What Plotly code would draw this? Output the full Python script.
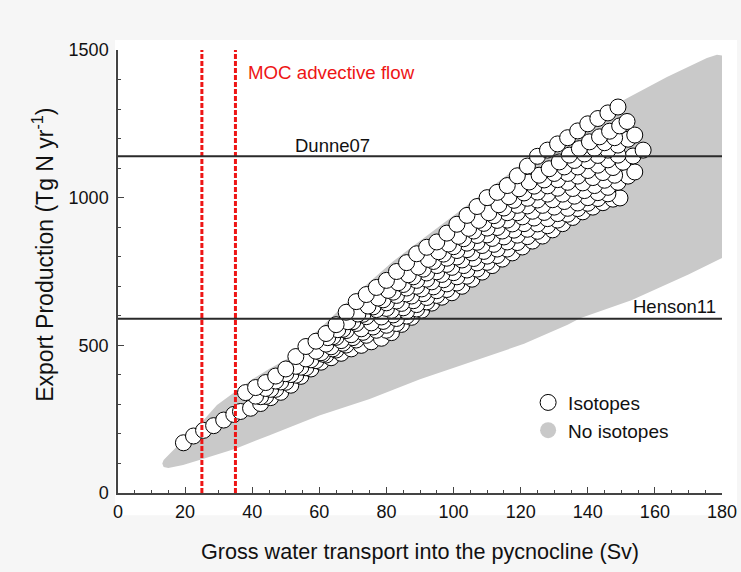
import plotly.graph_objects as go

# ---------------- data ----------------
x_tick_vals = [0, 20, 40, 60, 80, 100, 120, 140, 160, 180]
y_tick_vals = [0, 500, 1000, 1500]
moc_x = [25, 35]
ref_names = ["Dunne07", "Henson11"]
ref_y = [1140, 590]

# "No isotopes" cloud outline (Sv, Tg N/yr)
gray_x = [13.2, 13.6, 16, 20, 25, 29.5, 35, 40, 45, 51.3, 60, 71.2, 82, 95, 108, 122, 137,
          151.7, 163.6, 175.5, 178.5, 180.8, 181.8, 182, 181.8, 180, 170, 153, 137.7, 134,
          121, 110, 100, 90, 75, 60, 45, 35, 25, 19.4, 15, 13.6]
gray_y = [100, 112, 140, 185, 240, 298, 345, 385, 420, 460, 555, 677, 785, 897, 1010, 1128, 1240,
          1337, 1409, 1473, 1484, 1480, 1465, 1000, 805, 796, 740, 653, 592, 570,
          505, 462, 425, 385, 318, 262, 195, 150, 114, 95, 85, 88]

# "Isotopes" circles, read streak by streak
a_x = [19.5, 22.5, 25.5, 28.5, 31.5, 34.5, 36.5]
a_y = [170, 193, 212, 228, 247, 266, 276]

s6_x = [39.5, 42.5, 45.5, 48.5, 51.5, 54.5, 57.5, 60.5, 63.5, 66.5, 69.5, 72.5, 75.5, 78.5,
        81.5, 84.5, 87.5, 90.5, 93.5, 96.5, 99.5, 102.5, 105.5, 108.5, 111.5, 114.5, 117.5,
        120.5, 123.5, 126.5, 129.5, 132.5, 135.5, 138.5, 141.5, 144.5, 147.5, 149.6]
s6_y = [287, 303, 323, 341, 365, 395, 420, 443, 458, 473, 488, 500, 512, 524,
        543, 571, 595, 619, 643, 663, 678, 700, 724, 748, 770, 792, 813,
        833, 853, 870, 891, 912, 933, 952, 968, 983, 995, 999]

s56_x = [80, 83, 86, 89, 92, 95, 98, 101, 104, 107, 110, 113, 116, 119, 122, 125, 128, 131,
         134, 137, 140, 143, 146]
s56_y = [551, 574, 599, 623, 647, 669, 689, 711, 734, 758, 781, 804, 826, 848, 868, 886, 905,
         924, 944, 963, 981, 997, 1013]

s5_x = [44, 47, 50, 53, 56, 59, 62, 65, 68, 71, 74, 77, 80, 83, 86, 89, 92, 95, 98, 101, 104,
        107, 110, 113, 116, 119, 122, 125, 128, 131, 134, 137, 140, 143, 146, 149, 152, 154]
s5_y = [327, 351, 375, 399, 424, 448, 467, 484, 501, 518, 534, 551, 568, 591, 615, 638, 662,
        685, 708, 732, 755, 779, 802, 826, 850, 873, 893, 911, 929, 946, 964, 982, 1000, 1017,
        1035, 1052, 1073, 1087]

s45_x = [61, 64, 67, 70, 73, 76, 79, 82, 85, 88, 91, 94, 97, 100, 103, 106, 109, 112, 115, 118,
         121, 124, 127, 130, 133, 136, 139, 142, 145, 148]
s45_y = [470, 488, 507, 526, 544, 562, 581, 603, 627, 651, 675, 698, 722, 746, 770, 794, 818,
         842, 867, 890, 912, 931, 950, 968, 987, 1005, 1024, 1041, 1059, 1076]

s4_x = [42.5, 45.5, 48.5, 51.5, 54.5, 57.5, 60.5, 63.5, 66.5, 69.5, 72.5, 75.5, 78.5, 81.5,
        84.5, 87.5, 90.5, 93.5, 96.5, 99.5, 102.5, 105.5, 108.5, 111.5, 114.5, 117.5, 120.5,
        123.5, 126.5, 129.5, 132.5, 135.5, 138.5, 141.5, 144.5, 147.5, 150.5, 153.5, 156.5]
s4_y = [326, 351, 376, 401, 426, 451, 475, 495, 516, 536, 556, 576, 596, 618,
        642, 667, 691, 715, 740, 764, 789, 813, 838, 862, 887, 911, 935,
        954, 974, 993, 1012, 1031, 1050, 1068, 1085, 1102, 1120, 1141, 1161]

s34_x = [80, 83, 86, 89, 92, 95, 98, 101, 104, 107, 110, 113, 116, 119, 122, 125, 128, 131,
         134, 137, 140, 143, 146, 149]
s34_y = [625, 650, 674, 700, 724, 749, 774, 799, 824, 849, 874, 899, 924, 949, 972, 992, 1012,
         1032, 1052, 1073, 1092, 1110, 1128, 1144]

s3_x = [41, 44, 47, 50, 53, 56, 59, 62, 65, 68, 71, 74, 77, 80, 83, 86, 89, 92, 95, 98, 101,
        104, 107, 110, 113, 116, 119, 122, 125, 128, 131, 134, 137, 140, 143, 146, 149, 152, 154]
s3_y = [328, 354, 379, 404, 429, 454, 480, 504, 527, 550, 574, 597, 621, 644, 669, 694, 720,
        745, 770, 795, 821, 846, 872, 897, 923, 949, 974, 998, 1019, 1040, 1061, 1082, 1104,
        1125, 1143, 1161, 1178, 1198, 1212]

s23_x = [64, 67, 70, 73, 76, 79, 82, 85, 88, 91, 94, 97, 100, 103, 106, 109, 112, 115, 118,
         121, 124, 127, 130, 133, 136, 139, 142, 145, 148]
s23_y = [529, 554, 580, 605, 630, 654, 680, 706, 732, 758, 784, 809, 834, 861, 887, 913, 939,
         965, 991, 1016, 1039, 1060, 1082, 1104, 1126, 1148, 1167, 1186, 1203]

s2_x = [62.5, 65.5, 68.5, 71.5, 74.5, 77.5, 80.5, 83.5, 86.5, 89.5, 92.5, 95.5, 98.5, 101.5,
        104.5, 107.5, 110.5, 113.5, 116.5, 119.5, 122.5, 125.5, 128.5, 131.5, 134.5, 137.5,
        140.5, 143.5, 146.5, 149.5, 151.7]
s2_y = [526, 553, 580, 606, 633, 660, 686, 712, 739, 765, 791, 817, 843, 869,
        896, 923, 949, 976, 1003, 1030, 1053, 1076, 1098, 1121, 1144, 1166,
        1189, 1206, 1225, 1243, 1258]

s1_x = [38, 41, 44, 47, 50, 53, 56, 59, 62, 65, 68, 71, 74, 77, 80, 83, 86, 89, 92, 95, 98, 101,
        104, 107, 110, 113, 116, 119, 122, 125, 128, 131, 134, 137, 140, 143, 146, 149]
s1_y = [340, 357, 374, 396, 420, 462, 496, 514, 540, 570, 612, 648, 672, 696, 720, 750, 780,
        810, 832, 850, 880, 910, 940, 970, 1000, 1018, 1041, 1074, 1107, 1140, 1161, 1182, 1203,
        1226, 1250, 1268, 1287, 1307]

iso_x = a_x + s6_x + s56_x + s5_x + s45_x + s4_x + s34_x + s3_x + s23_x + s2_x + s1_x
iso_y = a_y + s6_y + s56_y + s5_y + s45_y + s4_y + s34_y + s3_y + s23_y + s2_y + s1_y

# ---------------- figure ----------------
FONT = "Arial, Liberation Sans, Helvetica, sans-serif"
GRAY = "#c9c9c9"
RED = "#ee1515"

fig = go.Figure()

fig.add_trace(go.Scatter(x=gray_x, y=gray_y, fill="toself", mode="lines",
                         line=dict(width=0, color=GRAY), fillcolor=GRAY,
                         showlegend=False, hoverinfo="skip"))

fig.add_trace(go.Scatter(x=iso_x, y=iso_y, mode="markers", name="Isotopes",
                         marker=dict(symbol="circle", size=16, color="white",
                                     line=dict(color="black", width=1))))

fig.add_trace(go.Scatter(x=[None], y=[None], mode="markers", name="No isotopes",
                         marker=dict(symbol="circle", size=16, color=GRAY,
                                     line=dict(width=0))))

for xv in moc_x:
    fig.add_shape(type="line", xref="x", yref="y", x0=xv, x1=xv, y0=0, y1=1500,
                  line=dict(color=RED, width=3, dash="5px,2px"))

for yv in ref_y:
    fig.add_shape(type="line", xref="x", yref="y", x0=0, x1=180, y0=yv, y1=yv,
                  line=dict(color="#2a2a2a", width=2))

# white panel behind plot
fig.add_shape(type="rect", xref="paper", yref="paper", x0=-0.005, x1=1.025,
              y0=-0.05, y1=1.0226, fillcolor="white", line=dict(width=0), layer="below")

fig.add_annotation(x=38.2, y=1425, xref="x", yref="y", text="MOC advective flow",
                   showarrow=False, xanchor="left", yanchor="middle",
                   font=dict(family=FONT, size=18.7, color=RED))
fig.add_annotation(x=64, y=1178, xref="x", yref="y", text=ref_names[0],
                   showarrow=False, xanchor="center", yanchor="middle",
                   font=dict(family=FONT, size=18.5, color="#111"))
fig.add_annotation(x=165.7, y=631, xref="x", yref="y", text=ref_names[1],
                   showarrow=False, xanchor="center", yanchor="middle",
                   font=dict(family=FONT, size=18.5, color="#111"))

fig.add_annotation(x=0.5, y=-0.131, xref="paper", yref="paper",
                   text="Gross water transport into the pycnocline (Sv)",
                   showarrow=False, xanchor="center", yanchor="middle",
                   font=dict(family=FONT, size=21.6, color="#111"))
fig.add_annotation(x=-0.124, y=0.538, xref="paper", yref="paper",
                   text="Export Production (Tg N yr<sup>-1</sup>)", textangle=-90,
                   showarrow=False, xanchor="center", yanchor="middle",
                   font=dict(family=FONT, size=23, color="#111"))

axis_common = dict(showgrid=False, zeroline=False, showline=True, linecolor="#444",
                   linewidth=1.5, ticks="inside", ticklen=6, tickwidth=1.2, tickcolor="#444",
                   tickfont=dict(family=FONT, size=18, color="#111"), mirror=False,
                   automargin=False)

fig.update_xaxes(range=[0, 180], tickvals=x_tick_vals, ticklabelstandoff=2,
                 minor=dict(dtick=5, ticks="inside", ticklen=3, tickcolor="#444"),
                 **axis_common)
fig.update_yaxes(range=[0, 1500], tickvals=y_tick_vals, ticklabelstandoff=4,
                 minor=dict(dtick=100, ticks="inside", ticklen=3, tickcolor="#444"),
                 **axis_common)

fig.update_layout(width=741, height=572, autosize=False,
                  margin=dict(l=118, r=19, t=50, b=79, autoexpand=False),
                  paper_bgcolor="#f6f6f6", plot_bgcolor="white",
                  font=dict(family=FONT),
                  legend=dict(x=0.679, y=0.247, xanchor="left", yanchor="top",
                              bgcolor="rgba(0,0,0,0)", borderwidth=0,
                              font=dict(family=FONT, size=19, color="#111"),
                              itemwidth=30, tracegroupgap=0))

fig.write_html("out.html")
